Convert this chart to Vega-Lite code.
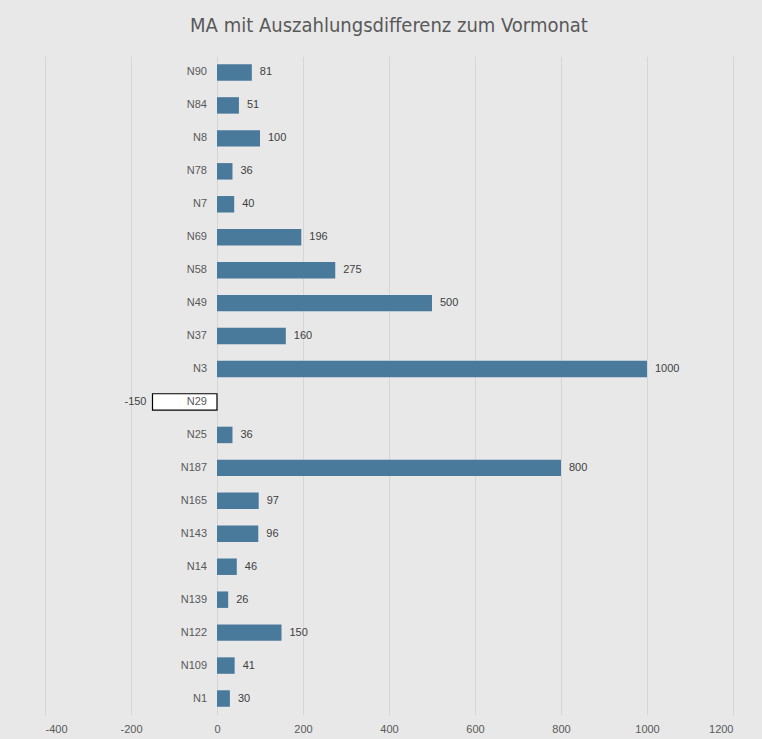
{
  "$schema": "https://vega.github.io/schema/vega-lite/v6.json",
  "autosize": "none",
  "width": 688,
  "height": 659,
  "padding": {"left": 45, "top": 56, "right": 29, "bottom": 24},
  "background": "#E8E8E8",
  "title": {
    "text": "MA mit Auszahlungsdifferenz zum Vormonat",
    "font": "DejaVu Sans Condensed, Liberation Sans",
    "fontSize": 20,
    "fontWeight": "normal",
    "color": "#595959",
    "anchor": "middle",
    "offset": 20
  },
  "config": {
    "view": {"stroke": null},
    "font": "Liberation Sans"
  },
  "data": {
    "values": [
      {"name": "N90", "v": 81},
      {"name": "N84", "v": 51},
      {"name": "N8", "v": 100},
      {"name": "N78", "v": 36},
      {"name": "N7", "v": 40},
      {"name": "N69", "v": 196},
      {"name": "N58", "v": 275},
      {"name": "N49", "v": 500},
      {"name": "N37", "v": 160},
      {"name": "N3", "v": 1000},
      {"name": "N29", "v": -150},
      {"name": "N25", "v": 36},
      {"name": "N187", "v": 800},
      {"name": "N165", "v": 97},
      {"name": "N143", "v": 96},
      {"name": "N14", "v": 46},
      {"name": "N139", "v": 26},
      {"name": "N122", "v": 150},
      {"name": "N109", "v": 41},
      {"name": "N1", "v": 30}
    ]
  },
  "encoding": {
    "y": {
      "field": "name",
      "type": "nominal",
      "sort": null,
      "scale": {"paddingInner": 0.5, "paddingOuter": 0.25},
      "axis": null
    }
  },
  "layer": [
    {
      "mark": {"type": "bar", "strokeWidth": 1.2},
      "encoding": {
        "x": {
          "field": "v",
          "type": "quantitative",
          "scale": {"domain": [-400, 1200], "nice": false},
          "axis": {
            "title": null,
            "values": [-400, -200, 0, 200, 400, 600, 800, 1000, 1200],
            "labelExpr": "'' + datum.value",
            "domain": false,
            "ticks": false,
            "grid": true,
            "gridColor": "#D6D6D6",
            "gridWidth": 1,
            "labelColor": "#595959",
            "labelFontSize": 11,
            "labelPadding": 8
          }
        },
        "fill": {"condition": {"test": "datum.v < 0", "value": "#FFFFFF"}, "value": "#4A7A9B"},
        "stroke": {"condition": {"test": "datum.v < 0", "value": "#000000"}, "value": null}
      }
    },
    {
      "transform": [{"filter": "datum.v >= 0"}],
      "mark": {"type": "text", "align": "left", "dx": 8, "fontSize": 11, "color": "#404040"},
      "encoding": {
        "x": {"field": "v", "type": "quantitative"},
        "text": {"field": "v", "type": "nominal"}
      }
    },
    {
      "transform": [{"filter": "datum.v < 0"}],
      "mark": {"type": "text", "align": "right", "dx": -6, "fontSize": 11, "color": "#404040"},
      "encoding": {
        "x": {"field": "v", "type": "quantitative"},
        "text": {"field": "v", "type": "nominal"}
      }
    },
    {
      "mark": {"type": "text", "align": "right", "dx": -10, "fontSize": 11, "color": "#595959"},
      "encoding": {
        "x": {"datum": 0, "type": "quantitative"},
        "text": {"field": "name"}
      }
    }
  ]
}
